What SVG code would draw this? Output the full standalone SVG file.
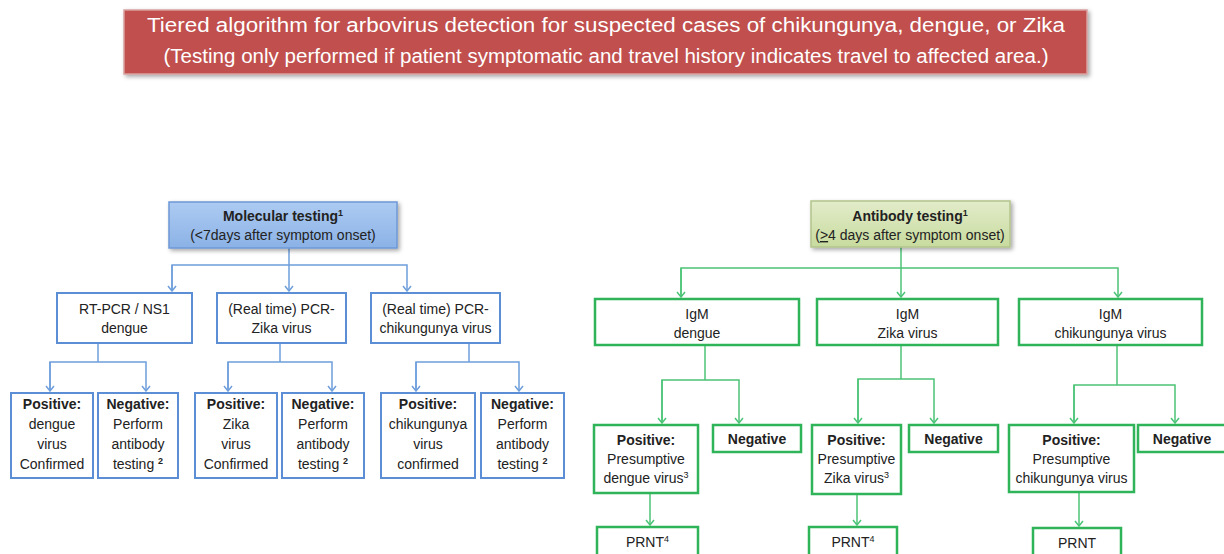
<svg xmlns="http://www.w3.org/2000/svg" width="1224" height="554" viewBox="0 0 1224 554">
<defs>
<linearGradient id="gBlue" x1="0" y1="0" x2="0" y2="1"><stop offset="0" stop-color="#adcbf2"/><stop offset="1" stop-color="#8bb2e6"/></linearGradient>
<linearGradient id="gGreen" x1="0" y1="0" x2="0" y2="1"><stop offset="0" stop-color="#e2ecca"/><stop offset="1" stop-color="#c8db9e"/></linearGradient>
<filter id="shadow" x="-5%" y="-20%" width="112%" height="150%"><feDropShadow dx="2" dy="2" stdDeviation="2" flood-color="#000" flood-opacity="0.35"/></filter>
<marker id="mb" viewBox="0 0 10 10" refX="5" refY="9" markerWidth="10" markerHeight="10" markerUnits="userSpaceOnUse" orient="0"><path d="M1,4 L5,9 L9,4" fill="none" stroke="#6f9fdc" stroke-width="1.5"/></marker>
<marker id="mg" viewBox="0 0 10 10" refX="5" refY="9" markerWidth="10" markerHeight="10" markerUnits="userSpaceOnUse" orient="0"><path d="M1,4 L5,9 L9,4" fill="none" stroke="#4cc477" stroke-width="1.5"/></marker>
</defs>
<style>
text{font-family:"Liberation Sans",Arial,sans-serif;font-size:14px;fill:#222;text-anchor:middle}
.b{font-weight:bold}
.title{fill:#fff;font-size:20px}
.bbox{fill:#fff;stroke:#5b8ed4;stroke-width:2}
.gbox{fill:#fff;stroke:#2fb45a;stroke-width:2.5}
.bl{fill:none;stroke:#6f9fdc;stroke-width:1.5}
.gl{fill:none;stroke:#4cc477;stroke-width:1.5}
.sup{font-size:9px}
</style>
<rect width="1224" height="554" fill="#fff"/>

<g id="title">
<rect x="124" y="10" width="963" height="64" fill="#c0504d" stroke="#d9a09e" stroke-width="1.5" filter="url(#shadow)"/>
<text class="title" x="606" y="32" textLength="918" lengthAdjust="spacingAndGlyphs">Tiered algorithm for arbovirus detection for suspected cases of chikungunya, dengue, or Zika</text>
<text class="title" x="606" y="63" textLength="885" lengthAdjust="spacingAndGlyphs">(Testing only performed if patient symptomatic and travel history indicates travel to affected area.)</text>
</g>

<g id="connectors">
<path class="bl" d="M289,248 V291" marker-end="url(#mb)"/>
<path class="bl" d="M172,291 V265 H407 V291" marker-end="url(#mb)"/>
<path class="bl" d="M172,265 V291" marker-end="url(#mb)"/>
<path class="bl" d="M98,343 V362"/>
<path class="bl" d="M50,391 V362 H146 V391" marker-end="url(#mb)"/>
<path class="bl" d="M50,362 V391" marker-end="url(#mb)"/>
<path class="bl" d="M280,343 V362"/>
<path class="bl" d="M228,391 V362 H332 V391" marker-end="url(#mb)"/>
<path class="bl" d="M228,362 V391" marker-end="url(#mb)"/>
<path class="bl" d="M469,343 V362"/>
<path class="bl" d="M416,391 V362 H519 V391" marker-end="url(#mb)"/>
<path class="bl" d="M416,362 V391" marker-end="url(#mb)"/>

<path class="gl" d="M901,247 V297" marker-end="url(#mg)"/>
<path class="gl" d="M681,297 V268 H1118 V297" marker-end="url(#mg)"/>
<path class="gl" d="M681,268 V297" marker-end="url(#mg)"/>
<path class="gl" d="M705,346 V380"/>
<path class="gl" d="M662,423 V380 H739 V423" marker-end="url(#mg)"/>
<path class="gl" d="M662,380 V423" marker-end="url(#mg)"/>
<path class="gl" d="M901,346 V379"/>
<path class="gl" d="M858,423 V379 H934 V423" marker-end="url(#mg)"/>
<path class="gl" d="M858,379 V423" marker-end="url(#mg)"/>
<path class="gl" d="M1117,346 V385"/>
<path class="gl" d="M1074,423 V385 H1175 V423" marker-end="url(#mg)"/>
<path class="gl" d="M1074,385 V423" marker-end="url(#mg)"/>
<path class="gl" d="M650,494 V525" marker-end="url(#mg)"/>
<path class="gl" d="M857,494 V525" marker-end="url(#mg)"/>
<path class="gl" d="M1079,493 V526" marker-end="url(#mg)"/>
</g>

<g id="molecular">
<rect x="169" y="202" width="228" height="46" fill="url(#gBlue)" stroke="#6d98d6" stroke-width="1.5" filter="url(#shadow)"/>
<text class="b" x="283" y="221">Molecular testing<tspan class="sup" dy="-5">1</tspan></text>
<text x="283" y="240">(&lt;7days after symptom onset)</text>
</g>

<g id="rtpcr-dengue">
<rect class="bbox" x="57" y="293" width="135" height="50"/>
<text x="124.5" y="314">RT-PCR / NS1</text>
<text x="124.5" y="333">dengue</text>
</g>
<g id="pcr-zika">
<rect class="bbox" x="217" y="293" width="129" height="50"/>
<text x="281.5" y="314">(Real time) PCR-</text>
<text x="281.5" y="333">Zika virus</text>
</g>
<g id="pcr-chik">
<rect class="bbox" x="371" y="293" width="129" height="50"/>
<text x="435.5" y="314">(Real time) PCR-</text>
<text x="435.5" y="333">chikungunya virus</text>
</g>

<g id="pos-dengue-mol">
<rect class="bbox" x="11" y="393" width="82" height="85"/>
<text class="b" x="52" y="409">Positive:</text>
<text x="52" y="429">dengue</text>
<text x="52" y="449">virus</text>
<text x="52" y="469">Confirmed</text>
</g>
<g id="neg-dengue-mol">
<rect class="bbox" x="98" y="393" width="80" height="85"/>
<text class="b" x="138" y="409">Negative:</text>
<text x="138" y="429">Perform</text>
<text x="138" y="449">antibody</text>
<text x="138" y="469">testing <tspan class="sup b" dy="-5">2</tspan></text>
</g>
<g id="pos-zika-mol">
<rect class="bbox" x="195" y="393" width="82" height="85"/>
<text class="b" x="236" y="409">Positive:</text>
<text x="236" y="429">Zika</text>
<text x="236" y="449">virus</text>
<text x="236" y="469">Confirmed</text>
</g>
<g id="neg-zika-mol">
<rect class="bbox" x="282" y="393" width="82" height="85"/>
<text class="b" x="323" y="409">Negative:</text>
<text x="323" y="429">Perform</text>
<text x="323" y="449">antibody</text>
<text x="323" y="469">testing <tspan class="sup b" dy="-5">2</tspan></text>
</g>
<g id="pos-chik-mol">
<rect class="bbox" x="381" y="393" width="94" height="85"/>
<text class="b" x="428" y="409">Positive:</text>
<text x="428" y="429">chikungunya</text>
<text x="428" y="449">virus</text>
<text x="428" y="469">confirmed</text>
</g>
<g id="neg-chik-mol">
<rect class="bbox" x="481" y="393" width="83" height="85"/>
<text class="b" x="522.5" y="409">Negative:</text>
<text x="522.5" y="429">Perform</text>
<text x="522.5" y="449">antibody</text>
<text x="522.5" y="469">testing <tspan class="sup b" dy="-5">2</tspan></text>
</g>

<g id="antibody">
<rect x="811" y="201" width="199" height="46" fill="url(#gGreen)" stroke="#b3c48c" stroke-width="1.5" filter="url(#shadow)"/>
<text class="b" x="910" y="221">Antibody testing<tspan class="sup" dy="-5">1</tspan></text>
<text x="910" y="240">(<tspan text-decoration="underline">&gt;</tspan>4 days after symptom onset)</text>
</g>

<g id="igm-dengue">
<rect class="gbox" x="595" y="299" width="204" height="46"/>
<text x="697" y="319">IgM</text>
<text x="697" y="338">dengue</text>
</g>
<g id="igm-zika">
<rect class="gbox" x="817" y="299" width="181" height="46"/>
<text x="907.5" y="319">IgM</text>
<text x="907.5" y="338">Zika virus</text>
</g>
<g id="igm-chik">
<rect class="gbox" x="1019" y="299" width="183" height="46"/>
<text x="1110.5" y="319">IgM</text>
<text x="1110.5" y="338">chikungunya virus</text>
</g>

<g id="pos-dengue-ab">
<rect class="gbox" x="594" y="425" width="104" height="68"/>
<text class="b" x="646" y="445">Positive:</text>
<text x="646" y="464">Presumptive</text>
<text x="646" y="483">dengue virus<tspan class="sup" dy="-5">3</tspan></text>
</g>
<g id="neg-dengue-ab">
<rect class="gbox" x="713" y="425" width="88" height="27"/>
<text class="b" x="757" y="444">Negative</text>
</g>
<g id="pos-zika-ab">
<rect class="gbox" x="812" y="425" width="89" height="69"/>
<text class="b" x="856.5" y="445">Positive:</text>
<text x="856.5" y="464">Presumptive</text>
<text x="856.5" y="483">Zika virus<tspan class="sup" dy="-5">3</tspan></text>
</g>
<g id="neg-zika-ab">
<rect class="gbox" x="909" y="425" width="89" height="27"/>
<text class="b" x="953.5" y="444">Negative</text>
</g>
<g id="pos-chik-ab">
<rect class="gbox" x="1009" y="425" width="125" height="67"/>
<text class="b" x="1071.5" y="445">Positive:</text>
<text x="1071.5" y="464">Presumptive</text>
<text x="1071.5" y="483">chikungunya virus</text>
</g>
<g id="neg-chik-ab">
<rect class="gbox" x="1138" y="425" width="90" height="27"/>
<text class="b" x="1182" y="444">Negative</text>
</g>

<g id="prnt-dengue">
<rect class="gbox" x="597" y="527" width="101" height="34"/>
<text x="647.5" y="547">PRNT<tspan class="sup" dy="-5">4</tspan></text>
</g>
<g id="prnt-zika">
<rect class="gbox" x="809" y="527" width="88" height="34"/>
<text x="853" y="547">PRNT<tspan class="sup" dy="-5">4</tspan></text>
</g>
<g id="prnt-chik">
<rect class="gbox" x="1033" y="528" width="88" height="34"/>
<text x="1077" y="548">PRNT</text>
</g>
</svg>
